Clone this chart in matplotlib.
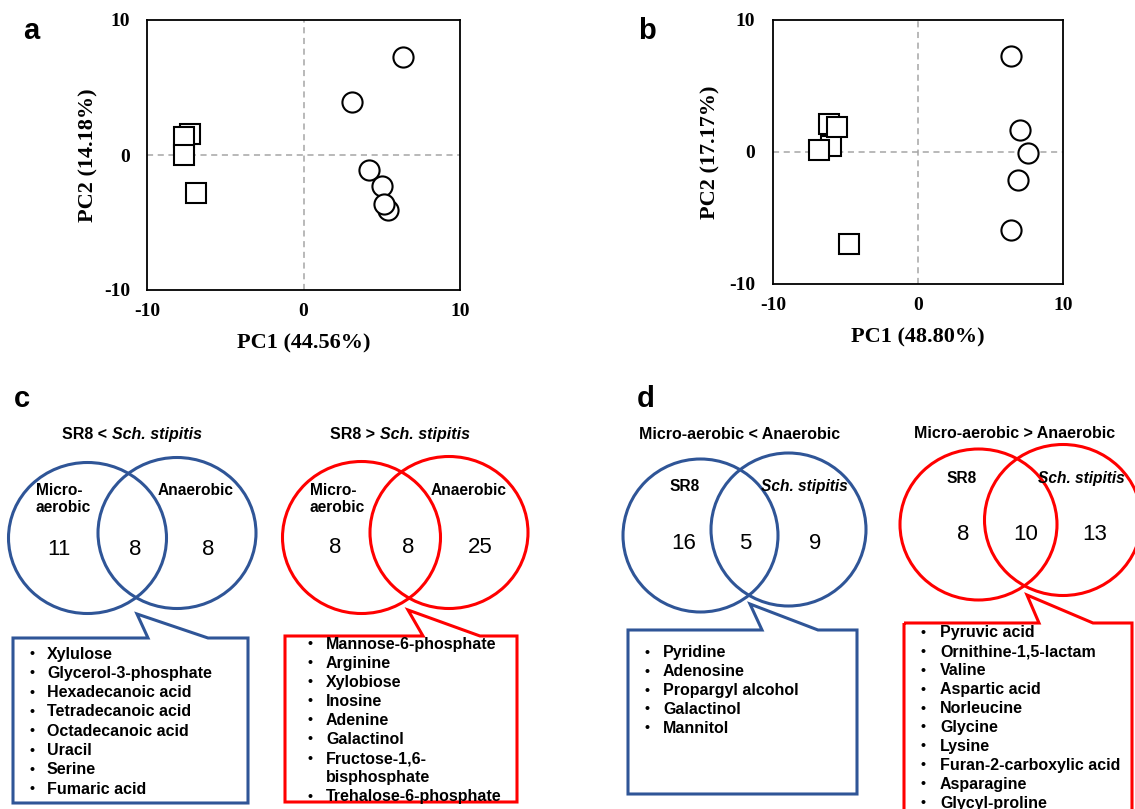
import matplotlib
matplotlib.use("Agg")
import matplotlib.pyplot as plt
from matplotlib.patches import Ellipse, Polygon

plt.rcParams["axes.unicode_minus"] = False

# ---- PCA score data ----
a_sq_x = [-7.25, -7.64, -7.64, -6.85]
a_sq_y = [1.53, 1.36, -0.03, -2.79]
a_ci_x = [6.38, 3.10, 4.19, 5.00, 5.38, 5.14]
a_ci_y = [7.24, 3.95, -1.13, -2.30, -4.05, -3.65]
a_xlabel = "PC1 (44.56%)"
a_ylabel = "PC2 (14.18%)"

b_sq_x = [-6.12, -5.98, -5.61, -6.80, -4.78]
b_sq_y = [2.12, 0.48, 1.89, 0.17, -6.95]
b_ci_x = [6.39, 7.03, 7.59, 6.92, 6.39]
b_ci_y = [7.27, 1.67, -0.08, -2.15, -5.91]
b_xlabel = "PC1 (48.80%)"
b_ylabel = "PC2 (17.17%)"

pca_ticks = [-10, 0, 10]

# ---- Venn data ----
venn_titles = [
    [("SR8 <", "normal"), ("Sch. stipitis", "italic")],
    [("SR8 >", "normal"), ("Sch. stipitis", "italic")],
    [("Micro-aerobic < Anaerobic", "normal")],
    [("Micro-aerobic > Anaerobic", "normal")],
]
venn_sets = [
    [("Micro-\naerobic", "normal"), ("Anaerobic", "normal")],
    [("Micro-\naerobic", "normal"), ("Anaerobic", "normal")],
    [("SR8", "normal"), ("Sch. stipitis", "italic")],
    [("SR8", "normal"), ("Sch. stipitis", "italic")],
]
venn_counts = [
    [11, 8, 8],
    [8, 8, 25],
    [16, 5, 9],
    [8, 10, 13],
]
venn_lists = [
    ["Xylulose", "Glycerol-3-phosphate", "Hexadecanoic acid", "Tetradecanoic acid",
     "Octadecanoic acid", "Uracil", "Serine", "Fumaric acid"],
    ["Mannose-6-phosphate", "Arginine", "Xylobiose", "Inosine", "Adenine",
     "Galactinol", "Fructose-1,6-\nbisphosphate", "Trehalose-6-phosphate"],
    ["Pyridine", "Adenosine", "Propargyl alcohol", "Galactinol", "Mannitol"],
    ["Pyruvic acid", "Ornithine-1,5-lactam", "Valine", "Aspartic acid", "Norleucine",
     "Glycine", "Lysine", "Furan-2-carboxylic acid", "Asparagine", "Glycyl-proline"],
]
BLUE = "#2F5597"
RED = "#FF0000"
venn_colors = [BLUE, RED, BLUE, RED]

W, H = 1135, 809
SERIF = ["Liberation Serif", "DejaVu Serif"]
SANS = ["Liberation Sans", "DejaVu Sans"]

fig = plt.figure(figsize=(W / 100, H / 100), dpi=100)


def px_axes(l, t, r, b):
    return fig.add_axes([l / W, 1 - b / H, (r - l) / W, (b - t) / H])


def pca_panel(ax, sq_x, sq_y, ci_x, ci_y, xlabel, ylabel, xpad, ypad, xlp, ylp):
    ax.set_xlim(-10, 10)
    ax.set_ylim(-10, 10)
    ax.axhline(0, color="#A6A6A6", lw=1.1, ls=(0, (4, 3)), zorder=1)
    ax.axvline(0, color="#A6A6A6", lw=1.1, ls=(0, (4, 3)), zorder=1)
    for x, y in zip(sq_x, sq_y):
        ax.plot(x, y, marker="s", ms=15, mfc="white", mec="black", mew=1.5,
                ls="none", zorder=3)
    for x, y in zip(ci_x, ci_y):
        ax.plot(x, y, marker="o", ms=14.5, mfc="white", mec="black", mew=1.5,
                ls="none", zorder=3)
    ax.set_xticks(pca_ticks)
    ax.set_yticks(pca_ticks)
    ax.tick_params(length=0)
    ax.tick_params(axis="x", pad=xpad)
    ax.tick_params(axis="y", pad=ypad)
    for lab in ax.get_xticklabels() + ax.get_yticklabels():
        lab.set_family(SERIF)
        lab.set_fontweight("bold")
        lab.set_fontsize(14)
    ax.set_xlabel(xlabel, family=SERIF, fontweight="bold", fontsize=16, labelpad=xlp)
    ax.set_ylabel(ylabel, family=SERIF, fontweight="bold", fontsize=16, labelpad=ylp)
    for s in ax.spines.values():
        s.set_linewidth(1.3)


ax_a = px_axes(147, 20, 460, 290)
pca_panel(ax_a, a_sq_x, a_sq_y, a_ci_x, a_ci_y, a_xlabel, a_ylabel, 9, 12, 10, 4)
ax_b = px_axes(773, 20, 1063, 284)
pca_panel(ax_b, b_sq_x, b_sq_y, b_ci_x, b_ci_y, b_xlabel, b_ylabel, 9, 13, 10, 6)

# overlay in pixel units for the venn panels and letters
ov = fig.add_axes([0, 0, 1, 1])
ov.set_xlim(0, W)
ov.set_ylim(H, 0)
ov.axis("off")
renderer = fig.canvas.get_renderer()

for letter, x, y in [("a", 23, 39), ("b", 638, 39), ("c", 14, 407), ("d", 637, 407)]:
    ov.text(x, y, letter, family=SANS, fontweight="bold", fontsize=21,
            ha="left", va="baseline")

# layout of each venn panel (pixel positions)
layouts = [
    dict(title=(132, 434), circ=[(87.5, 538), (177, 533)], wh=(158, 151),
         lab=[(36, 499, "left"), (196, 490, "center")],
         num=[(59, 548), (135, 548), (208, 548)],
         box=(13, 248, 638, 803), ptr=(148, 137, 614, 208),
         bx=32, tx=47, y0=654, dy=19.3),
    dict(title=(400, 434), circ=[(361.5, 537.5), (449, 532.5)], wh=(158, 152),
         lab=[(310, 499, "left"), (469, 490, "center")],
         num=[(335, 546), (408, 546), (480, 546)],
         box=(285, 517, 636, 802), ptr=(423, 408, 610, 480),
         bx=310, tx=326, y0=644, dy=19.1),
    dict(title=(740, 434), circ=[(700.5, 535.5), (788.5, 529.5)], wh=(155, 153),
         lab=[(685, 486, "center"), (804, 486, "center")],
         num=[(684, 542), (745, 542), (815, 542)],
         box=(628, 857, 630, 794), ptr=(762, 750, 604, 818),
         bx=647, tx=663, y0=653, dy=18.8),
    dict(title=(1015, 433), circ=[(978.5, 524.5), (1063, 520)], wh=(157, 151),
         lab=[(962, 478, "center"), (1081, 478, "center")],
         num=[(963, 533), (1026, 533), (1095, 533)],
         box=(904, 1132, 623, 815), ptr=(1039, 1027, 595, 1093),
         bx=923, tx=940, y0=633, dy=18.9),
]

for title, sets, counts, items, color, L in zip(venn_titles, venn_sets, venn_counts,
                                                 venn_lists, venn_colors, layouts):
    # title with mixed italic part, centred
    texts = [ov.text(0, L["title"][1], s, fontstyle=st, family=SANS, fontweight="bold",
                     fontsize=11.5, ha="left", va="center") for s, st in title]
    widths = [t.get_window_extent(renderer).width for t in texts]
    gap = 4.5
    x = L["title"][0] - (sum(widths) + gap * (len(widths) - 1)) / 2
    for t, w in zip(texts, widths):
        t.set_x(x)
        x += w + gap

    for (cx, cy) in L["circ"]:
        ov.add_patch(Ellipse((cx, cy), L["wh"][0], L["wh"][1], fill=False,
                             edgecolor=color, lw=2.2))
    for (s, st), (lx, ly, ha) in zip(sets, L["lab"]):
        ov.text(lx, ly, s, fontstyle=st, family=SANS, fontweight="bold", fontsize=11.2,
                ha=ha, va="center", linespacing=1.15)
    for n, (nx, ny) in zip(counts, L["num"]):
        ov.text(nx, ny + 1.5, str(n), family=SANS, fontsize=16, ha="center", va="center")

    l, r, t, b = L["box"]
    lb, tipx, tipy, rb = L["ptr"]
    ov.add_patch(Polygon([(l, t), (lb, t), (tipx, tipy), (rb, t), (r, t), (r, b), (l, b)],
                         closed=True, fill=False, edgecolor=color, lw=2.2,
                         joinstyle="miter"))
    row = 0
    for item in items:
        for k, line in enumerate(item.split("\n")):
            y = L["y0"] + row * L["dy"]
            if k == 0:
                ov.text(L["bx"], y, "\u2022", family=SANS, fontweight="bold",
                        fontsize=10, ha="center", va="center")
            ov.text(L["tx"], y, line, family=SANS, fontweight="bold", fontsize=11.5,
                    ha="left", va="center")
            row += 1

fig.savefig("out.png", dpi=100)
